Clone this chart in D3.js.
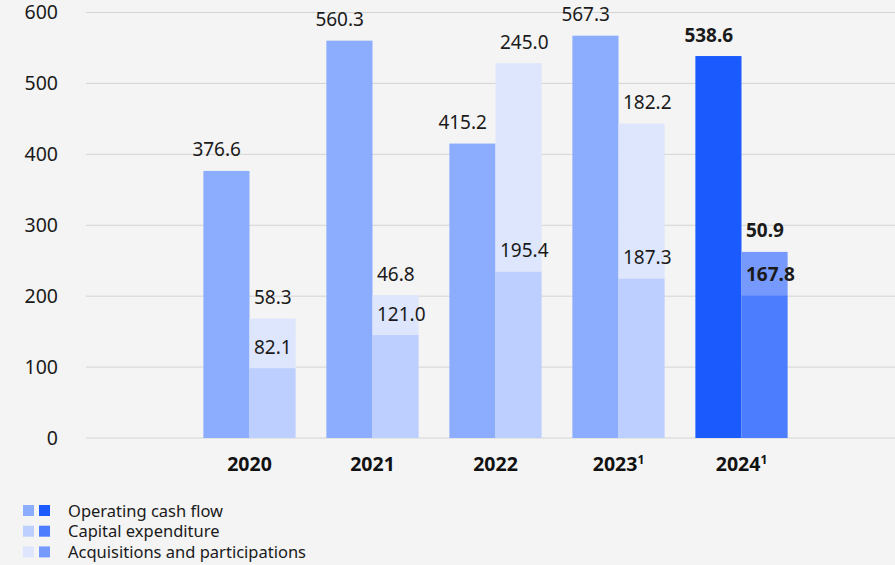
<!DOCTYPE html>
<html>
<head>
<meta charset="utf-8">
<script src="https://cdn.jsdelivr.net/npm/d3@7"></script>
<style>
  html, body { margin: 0; padding: 0; background: #f4f4f4; }
  svg { display: block; font-family: "Noto Sans", "Open Sans", sans-serif; }
</style>
</head>
<body>
<svg id="chart" width="895" height="565"></svg>
<script>
const years = ['2020', '2021', '2022', '2023', '2024'];
const footnotes = ['', '', '', '1', '1'];
const operatingCashFlow = [376.6, 560.3, 415.2, 567.3, 538.6];
const capitalExpenditure = [82.1, 121.0, 195.4, 187.3, 167.8];
const acquisitions = [58.3, 46.8, 245.0, 182.2, 50.9];
const yTicks = [0, 100, 200, 300, 400, 500, 600];

const legendItems = ['Operating cash flow', 'Capital expenditure', 'Acquisitions and participations'];
// [previous years, current year]
const colors = {
    ocf: ['#8cadfe', '#1b5bfe'],
    capex: ['#bdcffe', '#4b7dfe'],
    acq: ['#dee6fe', '#7699fe']
};

const svg = d3.select('#chart');
const textColor = '#1a1a1a';

const y = d3.scaleLinear().domain([0, 600]).range([438, 12.5]);
// the source draws the stacked capex/acquisition bars on their own scale (top at 500)
const yStack = d3.scaleLinear().domain([0, 500]).range([438, 12.5]);

const x = d3.scaleBand().domain(years).range([188, 803]).paddingInner(0.25).paddingOuter(0.125);
const half = x.bandwidth() / 2;
const isCurrent = (i) => i === years.length - 1;

// grid
svg.append('g').selectAll('line').data(yTicks).join('line')
    .attr('x1', 86).attr('x2', 895)
    .attr('y1', d => y(d)).attr('y2', d => y(d))
    .attr('stroke', '#d4d4d4').attr('stroke-width', 1);

// y axis labels
const yAxis = d3.axisLeft(y).tickValues(yTicks).tickSize(0).tickPadding(0);
svg.append('g').attr('transform', 'translate(58,0)').call(yAxis)
    .call(g => g.select('.domain').remove())
    .call(g => g.selectAll('text').attr('fill', textColor).attr('font-size', 19.5)
        .attr('font-family', '"Noto Sans", sans-serif'));

const rows = years.map((yr, i) => ({
    yr, i,
    ocf: operatingCashFlow[i],
    capex: capitalExpenditure[i],
    acq: acquisitions[i]
}));

const groups = svg.append('g').selectAll('g').data(rows).join('g')
    .attr('transform', d => `translate(${x(d.yr)},0)`);

// operating cash flow
groups.append('rect')
    .attr('x', 0).attr('width', half)
    .attr('y', d => y(d.ocf)).attr('height', d => y(0) - y(d.ocf))
    .attr('fill', d => colors.ocf[isCurrent(d.i) ? 1 : 0]);

// acquisitions (stacked on top of capex)
groups.append('rect')
    .attr('x', half).attr('width', half)
    .attr('y', d => yStack(d.capex + d.acq)).attr('height', d => yStack(d.capex) - yStack(d.capex + d.acq))
    .attr('fill', d => colors.acq[isCurrent(d.i) ? 1 : 0]);

// capex
groups.append('rect')
    .attr('x', half).attr('width', half)
    .attr('y', d => yStack(d.capex)).attr('height', d => yStack(0) - yStack(d.capex))
    .attr('fill', d => colors.capex[isCurrent(d.i) ? 1 : 0]);

const fmt = d3.format('.1f');
function valueLabel(sel, lx, ly, val) {
    sel.append('text')
        .attr('x', lx).attr('y', ly)
        .attr('font-size', 19)
        .attr('font-weight', d => isCurrent(d.i) ? 700 : 400)
        .attr('fill', textColor)
        .text(val);
}
valueLabel(groups, -11, d => y(d.ocf) - 14.5, d => fmt(d.ocf));
valueLabel(groups, half + 4.5, d => yStack(d.capex + d.acq) - 14.5, d => fmt(d.acq));
valueLabel(groups, half + 4.5, d => yStack(d.capex) - 14.5, d => fmt(d.capex));

// x labels
const xl = svg.append('g').selectAll('text').data(rows).join('text')
    .attr('x', d => x(d.yr) + half)
    .attr('y', 470.5)
    .attr('text-anchor', 'middle')
    .attr('font-size', 19.5).attr('font-weight', 700)
    .attr('fill', '#111');
xl.append('tspan').text(d => d.yr);
xl.append('tspan').attr('dy', -7).attr('font-size', 12).text(d => footnotes[d.i]);

// legend
const legendKeys = ['ocf', 'capex', 'acq'];
const lg = svg.append('g').selectAll('g').data(legendItems).join('g')
    .attr('transform', (d, i) => `translate(0,${505 + i * 20.7})`);
lg.append('rect').attr('x', 23).attr('y', 0).attr('width', 11).attr('height', 11)
    .attr('fill', (d, i) => colors[legendKeys[i]][0]);
lg.append('rect').attr('x', 39).attr('y', 0).attr('width', 11).attr('height', 11)
    .attr('fill', (d, i) => colors[legendKeys[i]][1]);
lg.append('text').attr('x', 68).attr('y', 11.5).attr('font-size', 16.5)
    .attr('fill', textColor).text(d => d);
</script>
</body>
</html>
